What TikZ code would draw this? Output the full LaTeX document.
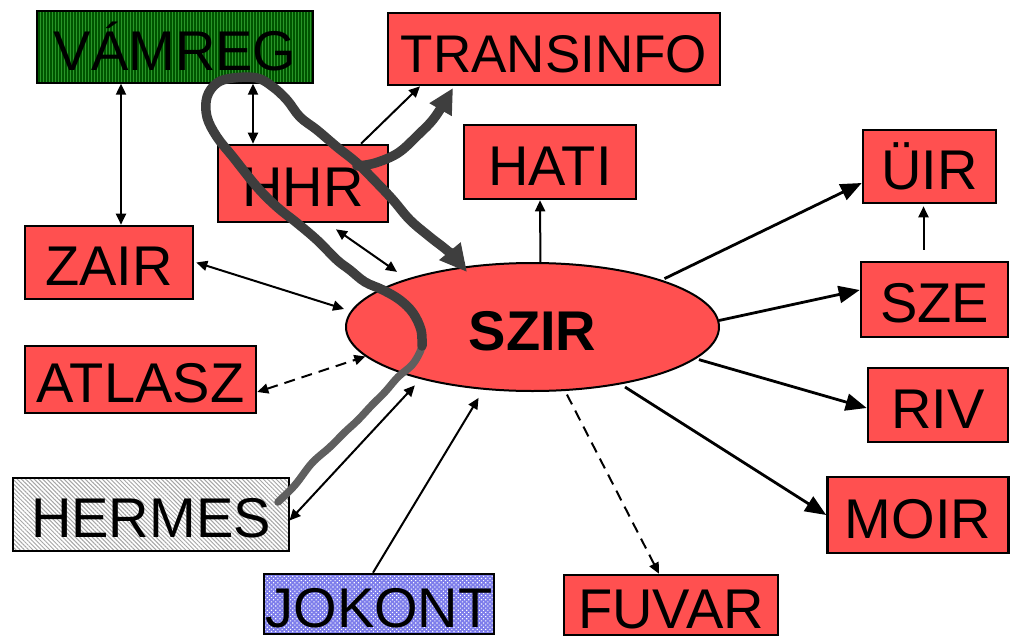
\documentclass[tikz,border=0pt]{standalone}
\usepackage{fontspec}
\setmainfont{Liberation Sans}
\usetikzlibrary{arrows.meta, positioning, shapes.geometric, patterns.meta}
\definecolor{boxred}{RGB}{255,80,80}
\definecolor{vamgreen}{RGB}{40,150,40}
\definecolor{vamstripe}{RGB}{0,85,0}
\definecolor{jokblue}{RGB}{125,125,235}
\definecolor{penlight}{RGB}{95,95,95}
\definecolor{pendark}{RGB}{62,62,62}

\begin{document}
\begin{tikzpicture}[
    x=1pt, y=-1pt,
    >={Triangle[length=11pt,width=10pt]},
    sys/.style={draw, line width=2.6pt, fill=boxred, inner sep=0pt,
        font=\fontsize{56}{56}\selectfont, text height=46pt, text depth=0pt},
    link/.style={line width=2pt},
    dlink/.style={line width=2pt, dash pattern=on 11pt off 7pt},
    outlink/.style={line width=2.8pt, -{Triangle[length=21pt,width=17pt]}},
    pen/.style={line width=9.5pt, line cap=round, line join=round, color=pendark}
]
\useasboundingbox (0,0) rectangle (1023,640);

\node[sys, minimum width=276pt, minimum height=72pt, preaction={fill=vamgreen},
    pattern={Lines[angle=90,distance=3pt,line width=1.3pt]}, pattern color=vamstripe] (vam) at (175,47) {VÁMREG};
\node[sys, minimum width=332pt, minimum height=72pt, font=\fontsize{53}{53}\selectfont] (trans) at (554,49) {TRANSINFO};
\node[sys, minimum width=170pt, minimum height=77pt] (hhr) at (303,183.5) {HHR};
\node[sys, minimum width=172pt, minimum height=74pt] (hati) at (550,162) {HATI};
\node[sys, minimum width=133pt, minimum height=73pt] (uir) at (929.5,166.5) {ÜIR};
\node[sys, minimum width=168pt, minimum height=73pt] (zair) at (109,262.5) {ZAIR};
\node[sys, minimum width=147pt, minimum height=75pt] (sze) at (934.5,299.5) {SZE};
\node[sys, minimum width=231pt, minimum height=67pt] (atl) at (140.5,379.5) {ATLASZ};
\node[sys, minimum width=140pt, minimum height=74pt] (riv) at (938,405) {RIV};
\node[sys, minimum width=276pt, minimum height=73pt, preaction={fill=white},
    pattern={Lines[angle=-45,distance=3pt,line width=1pt]}, pattern color=gray!70] (herm) at (151,514.5) {HERMES};
\node[sys, minimum width=181pt, minimum height=76pt] (moir) at (918,515) {MOIR};
\node[sys, minimum width=230pt, minimum height=60pt, preaction={fill=jokblue},
    pattern={Dots[distance=3pt,radius=0.8pt,angle=45]}, pattern color=white] (jok) at (379,604) {JOKONT};
\node[sys, minimum width=214pt, minimum height=60pt] (fuv) at (671,605) {FUVAR};
\node[sys, ellipse, line width=2pt, minimum width=373pt, minimum height=128pt,
    font=\fontsize{56}{56}\selectfont\bfseries] (szir) at (532.5,327) {SZIR};

\draw[link, <->] ([xshift=-54pt]vam.south) -- ([xshift=12pt]zair.north);
\draw[link, <->] ([xshift=78pt]vam.south) -- ([xshift=-50pt]hhr.north);
\draw[link, ->] ([xshift=58pt]hhr.north) -- ([xshift=-134pt]trans.south);
\draw[link, <->, shorten >=12pt] ([xshift=33pt,yshift=-6pt]hhr.south) -- (szir.159.5);
\draw[link, <->, shorten >=7pt] ([xshift=2pt]zair.east) -- (szir.175.3);
\draw[dlink, <->] ([yshift=-12.5pt]atl.east) -- (szir.190.6);
\draw[link, <->, shorten >=8.5pt] ([yshift=-6pt]herm.east) -- (szir.205.5);
\draw[link, ->, shorten >=9.5pt] ([xshift=-6pt]jok.north) -- (szir.232.5);
\draw[link, ->] (szir.83.3) -- ([xshift=-10pt]hati.south);
\draw[dlink, ->, shorten <=4pt] (szir.297.6) -- ([xshift=-12pt]fuv.north);
\draw[outlink, shorten <=5pt] (szir.327.1) -- (moir.west);
\draw[outlink, shorten <=3pt] (szir.349.1) -- ([yshift=-3pt]riv.west);
\draw[outlink] (szir.2.2) -- ([yshift=9.5pt]sze.west);
\draw[outlink, shorten <=3pt] (szir.20.5) -- ([yshift=-16.5pt]uir.west);
\draw[link, ->, shorten <=11pt, shorten >=2pt] ([xshift=-11pt]sze.north) -- ([xshift=-6pt]uir.south);

\draw[pen, line width=7.5pt, penlight] plot[smooth, tension=0.6] coordinates {(278,502) (295,485) (312,463) (330,447) (345,432) (358,420) (372,405) (385,392) (398,377) (412,365) (420,352) (422,344)};
\draw[pen, -{Triangle[length=27pt,width=26pt]}] plot[smooth, tension=0.6] coordinates {(422,346) (421,330) (413,313) (400,300) (383,290) (365,282) (350,270) (337,260) (317,240) (297,223) (277,207) (257,187) (233,157) (217,137) (207,117) (207,97) (217,83) (233,78) (257,78) (273,87) (287,100) (300,117) (317,130) (337,147) (357,163) (377,183) (393,200) (410,220) (430,237) (450,253) (467,272)};
\draw[pen, -{Triangle[length=25pt,width=24pt]}] plot[smooth, tension=0.6] coordinates {(357,166) (375,163) (398,153) (418,135) (435,117) (453,88)};
\end{tikzpicture}
\end{document}
